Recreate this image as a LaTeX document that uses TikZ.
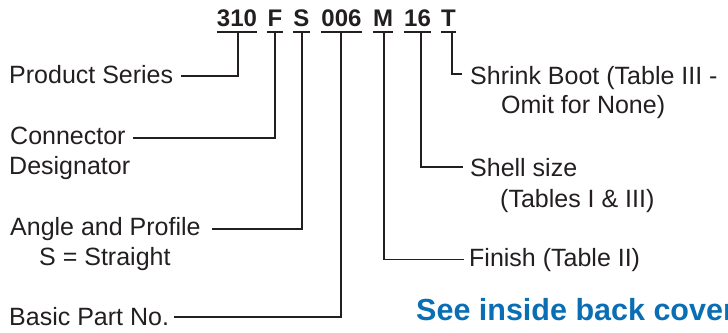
\documentclass[tikz,border=0pt]{standalone}
\usepackage{fontspec}
\setmainfont{Liberation Sans}
\definecolor{ink}{HTML}{231F20}
\definecolor{seeblue}{HTML}{0A6EB4}
\begin{document}
\begin{tikzpicture}[x=1pt,y=-1pt,
  lbl/.style={inner sep=0pt, anchor=base west, text=ink, font=\fontsize{25}{30}\selectfont},
  code/.style={inner sep=0pt, anchor=base, text=ink, font=\fontsize{24}{28}\selectfont\bfseries},
  link/.style={draw=ink, line width=1.8pt},
  uline/.style={draw=ink, line width=2pt}]
\useasboundingbox (0,0) rectangle (728,332);
\clip (0,0) rectangle (728,332);
% part-number code
\node[code] (c310) at (237,27) {310};
\node[code] (cF) at (275,27) {F};
\node[code] (cS) at (301.5,27) {S};
\node[code] (c006) at (341.5,27) {006};
\node[code] (cM) at (383,27) {M};
\node[code] (c16) at (417.5,27) {16};
\node[code] (cT) at (448.5,27) {T};
\foreach \n in {c310,cF,cS,c006,cM,c16,cT}
  \draw[uline] ([yshift=-5pt]\n.south west) -- ([yshift=-5pt]\n.south east);
% left labels
\node[lbl] (ps) at (9,83) {Product Series};
\node[lbl] (con) at (10,144) {Connector};
\node[lbl] (des) at (9,174) {Designator};
\node[lbl] (ang) at (10,235) {Angle and Profile};
\node[lbl] (str) at (39,265) {S = Straight};
\node[lbl] (bas) at (9,325) {Basic Part No.};
% right labels
\node[lbl] (shr) at (470,84) {Shrink Boot (Table III -};
\node[lbl] (omi) at (501,113) {Omit for None)};
\node[lbl] (she) at (470,176) {Shell size};
\node[lbl] (tab) at (500,207) {(Tables I \& III)};
\node[lbl] (fin) at (469,266.5) {Finish (Table II)};
\node[inner sep=0pt, anchor=base west, text=seeblue, font=\fontsize{30.5}{34}\selectfont\bfseries] (see) at (416,320) {See inside back cover};
% connectors
\draw[link] ([xshift=1pt,yshift=-5pt]c310.south) |- ([xshift=8pt,yshift=7pt]ps.base east);
\draw[link] ([yshift=-5pt]cF.south) |- ([xshift=7pt,yshift=6pt]con.base east);
\draw[link] ([xshift=0.5pt,yshift=-5pt]cS.south) |- ([xshift=11pt,yshift=6pt]ang.base east);
\draw[link] ([xshift=-0.5pt,yshift=-5pt]c006.south) |- ([xshift=5pt,yshift=8pt]bas.base east);
\draw[link] ([xshift=1pt,yshift=-5pt]cM.south) |- ([xshift=-5pt,yshift=7pt]fin.base west);
\draw[link] ([xshift=3.5pt,yshift=-5pt]c16.south) |- ([xshift=-7pt,yshift=9pt]she.base west);
\draw[link] ([xshift=3.5pt,yshift=-5pt]cT.south) |- ([xshift=-8pt,yshift=10pt]shr.base west);
\end{tikzpicture}
\end{document}
